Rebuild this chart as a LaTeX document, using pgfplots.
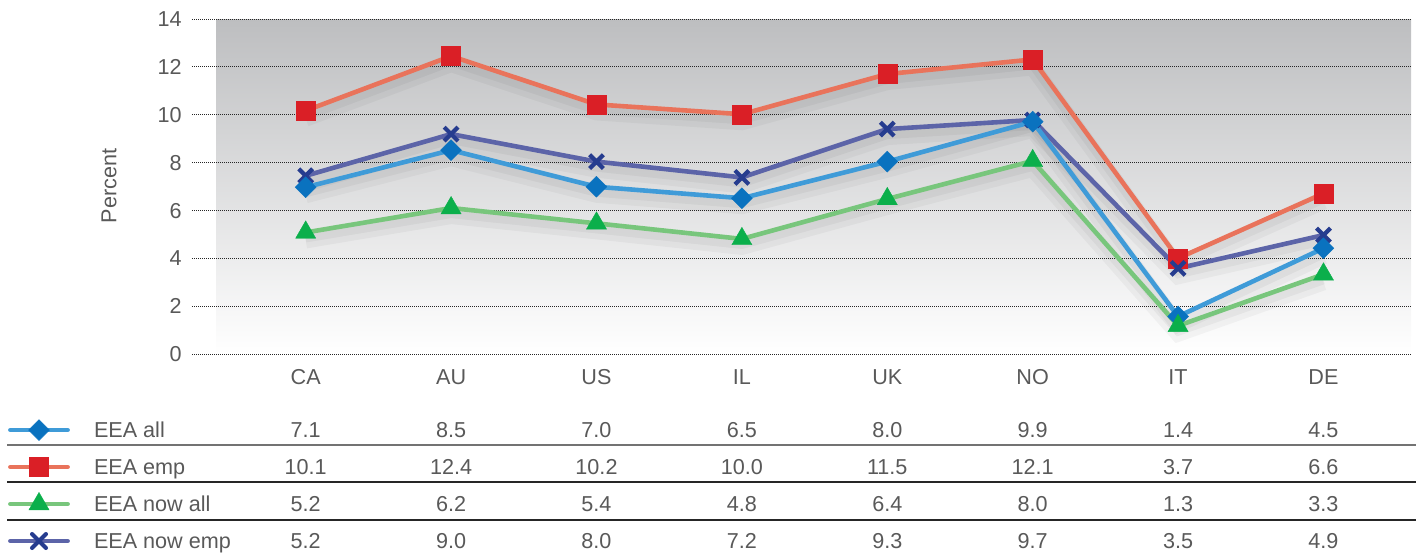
\documentclass[border=0pt]{standalone}
\usepackage{pgfplots}
\pgfplotsset{compat=1.18}
\usepackage{pgfplotstable}
\usepackage{fontspec}
\setmainfont{Liberation Sans}
\definecolor{txt}{HTML}{595959}
\definecolor{bgtop}{HTML}{BDBEC0}
\definecolor{allL}{HTML}{3F9BD8}
\definecolor{allM}{HTML}{0A72BF}
\definecolor{empL}{HTML}{E9735B}
\definecolor{empM}{HTML}{DA1F26}
\definecolor{nallL}{HTML}{78C67C}
\definecolor{nallM}{HTML}{0BAF4B}
\definecolor{nempL}{HTML}{5C64A8}
\definecolor{nempM}{HTML}{263C8F}

\pgfplotstableread{
x all emp nowall nowemp
0 6.97 10.17 5.08 7.45
1 8.52 12.45 6.10 9.19
2 6.99 10.43 5.46 8.04
3 6.51 10.02 4.81 7.38
4 8.04 11.70 6.48 9.40
5 9.71 12.31 8.07 9.78
6 1.57 4.00 1.18 3.58
7 4.42 6.71 3.33 4.97
}\chartdata

\pgfplotsset{
  sAll/.style={allL, line width=2.3pt, mark=square*, mark size=3.7pt,
    mark options={rotate=45, fill=allM, draw=allM, line width=0.2pt}},
  sEmp/.style={empL, line width=2.3pt, mark=square*, mark size=4.75pt,
    mark options={fill=empM, draw=empM, line width=0.2pt}},
  sNall/.style={nallL, line width=2.3pt, mark=triangle*, mark size=5.8pt,
    mark options={fill=nallM, draw=nallM, line width=0.2pt}},
  sNemp/.style={nempL, line width=2.3pt, mark=x, mark size=4.9pt,
    mark options={draw=nempM, line width=2.1pt}},
  shadowA/.style={forget plot, draw=black, opacity=0.035, line width=8pt, yshift=-4pt, mark=none},
  shadowB/.style={forget plot, draw=black, opacity=0.04, line width=4pt, yshift=-3pt, mark=none},
}

\begin{document}
\fontsize{10.8pt}{13pt}\selectfont
\begin{tikzpicture}
\path[use as bounding box] (0,0) rectangle (708pt,277pt);
\shade[top color=bgtop, bottom color=white] (108pt,100pt) rectangle (705.5pt,267.5pt);
\begin{axis}[
  at={(96pt,100pt)}, anchor=south west, scale only axis,
  width=609.5pt, height=167.5pt,
  xmin=-0.782, xmax=7.602, ymin=0, ymax=14,
  axis line style={draw=none}, tick style={draw=none},
  ytick={0,2,...,14}, xtick={0,...,7},
  xticklabels={CA,AU,US,IL,UK,NO,IT,DE},
  ymajorgrids,
  grid style={draw=black!85, line width=0.5pt, dash pattern=on 0.5pt off 0.5pt},
  clip=false,
  /pgf/number format/assume math mode=true,
  tick label style={font=\fontsize{10.8pt}{13pt}\selectfont, text=txt, inner sep=0pt, text height=7.6pt, text depth=0pt},
  xticklabel style={anchor=center, yshift=-11.35pt},
  yticklabel style={anchor=east, xshift=-5pt},
  ylabel={Percent},
  ylabel style={at={(axis description cs:-0.0681,0.5015)}, anchor=center, text=txt, font=\fontsize{10.8pt}{13pt}\selectfont},
  legend image code/.code={
    \path[draw=none, fill=none, line width=0pt] (0pt,-6pt) rectangle (31pt,6pt);
    \draw[#1, line cap=round, mark repeat=2, mark phase=2] plot coordinates {(1.2pt,0pt) (15.5pt,0pt) (29.8pt,0pt)};
  },
  legend cell align=left,
  legend style={at={(axis description cs:-0.15094,-0.19104)}, anchor=north west,
    draw=none, fill=none, inner sep=0pt, outer sep=0pt,
    row sep=6.5pt, column sep=12pt,
    font=\fontsize{10.8pt}{13pt}\selectfont,
    nodes={inner sep=0pt, text height=7.6pt, text depth=0pt, text=txt}},
]
\addlegendimage{sAll}
\addlegendimage{sEmp}
\addlegendimage{sNall}
\addlegendimage{sNemp}
\legend{EEA all, EEA emp, EEA now all, EEA now emp}

\addplot[shadowA] table[x=x,y=emp] {\chartdata};
\addplot[shadowA] table[x=x,y=nowemp] {\chartdata};
\addplot[shadowA] table[x=x,y=all] {\chartdata};
\addplot[shadowA] table[x=x,y=nowall] {\chartdata};
\addplot[shadowB] table[x=x,y=emp] {\chartdata};
\addplot[shadowB] table[x=x,y=nowemp] {\chartdata};
\addplot[shadowB] table[x=x,y=all] {\chartdata};
\addplot[shadowB] table[x=x,y=nowall] {\chartdata};

\addplot[sEmp, forget plot] table[x=x,y=emp] {\chartdata};
\addplot[sNemp, forget plot] table[x=x,y=nowemp] {\chartdata};
\addplot[sAll, forget plot] table[x=x,y=all] {\chartdata};
\addplot[sNall, forget plot] table[x=x,y=nowall] {\chartdata};

\tikzset{tv/.style={anchor=center, inner sep=0pt, text height=7.6pt, text depth=0pt, text=txt}}
% row 1: EEA all
\node[tv] at (axis cs:0,-3.176) {7.1};
\node[tv] at (axis cs:1,-3.176) {8.5};
\node[tv] at (axis cs:2,-3.176) {7.0};
\node[tv] at (axis cs:3,-3.176) {6.5};
\node[tv] at (axis cs:4,-3.176) {8.0};
\node[tv] at (axis cs:5,-3.176) {9.9};
\node[tv] at (axis cs:6,-3.176) {1.4};
\node[tv] at (axis cs:7,-3.176) {4.5};
% row 2: EEA emp
\node[tv] at (axis cs:0,-4.710) {10.1};
\node[tv] at (axis cs:1,-4.710) {12.4};
\node[tv] at (axis cs:2,-4.710) {10.2};
\node[tv] at (axis cs:3,-4.710) {10.0};
\node[tv] at (axis cs:4,-4.710) {11.5};
\node[tv] at (axis cs:5,-4.710) {12.1};
\node[tv] at (axis cs:6,-4.710) {3.7};
\node[tv] at (axis cs:7,-4.710) {6.6};
% row 3: EEA now all
\node[tv] at (axis cs:0,-6.268) {5.2};
\node[tv] at (axis cs:1,-6.268) {6.2};
\node[tv] at (axis cs:2,-6.268) {5.4};
\node[tv] at (axis cs:3,-6.268) {4.8};
\node[tv] at (axis cs:4,-6.268) {6.4};
\node[tv] at (axis cs:5,-6.268) {8.0};
\node[tv] at (axis cs:6,-6.268) {1.3};
\node[tv] at (axis cs:7,-6.268) {3.3};
% row 4: EEA now emp
\node[tv] at (axis cs:0,-7.802) {5.2};
\node[tv] at (axis cs:1,-7.802) {9.0};
\node[tv] at (axis cs:2,-7.802) {8.0};
\node[tv] at (axis cs:3,-7.802) {7.2};
\node[tv] at (axis cs:4,-7.802) {9.3};
\node[tv] at (axis cs:5,-7.802) {9.7};
\node[tv] at (axis cs:6,-7.802) {3.5};
\node[tv] at (axis cs:7,-7.802) {4.9};
\end{axis}
\draw[line width=0.9pt, black!55] (3.5pt,54.5pt) -- (708pt,54.5pt);
\draw[line width=0.9pt, black!85] (3.5pt,36pt) -- (708pt,36pt);
\draw[line width=0.9pt, black!85] (3.5pt,17.15pt) -- (708pt,17.15pt);
\end{tikzpicture}
\end{document}
